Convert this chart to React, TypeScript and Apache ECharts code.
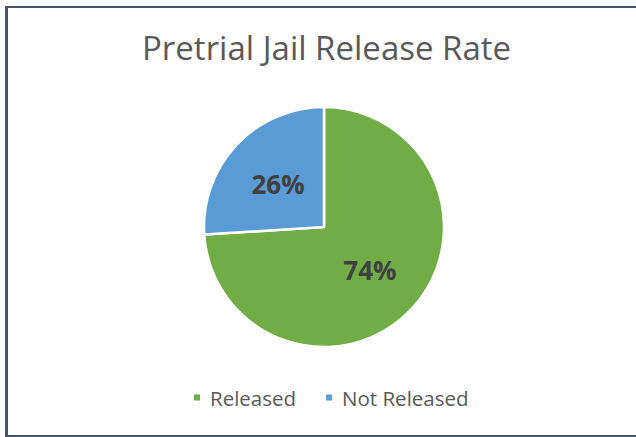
import React, { useEffect, useRef } from "react";
import * as echarts from "echarts";

const categories = ["Released", "Not Released"];
const values = [74, 26];
const colors = ["#70AD47", "#5B9BD5"];

export default function App() {
  const ref = useRef<HTMLDivElement>(null);
  useEffect(() => {
    const chart = echarts.init(ref.current!, null, { renderer: "svg" });
    chart.setOption({
      animation: false,
      backgroundColor: "#ffffff",
      title: {
        text: "Pretrial Jail Release Rate",
        left: 137,
        top: 26,
        textStyle: { fontFamily: "Open Sans", fontSize: 33, fontWeight: "normal", color: "#595959" },
      },
      legend: {
        bottom: 24,
        left: 187,
        icon: "rect",
        itemWidth: 8,
        itemHeight: 8,
        itemGap: 28,
        textStyle: { fontFamily: "Open Sans", fontSize: 20.5, color: "#595959", padding: [0, 0, 0, 4] },
        data: categories,
      },
      series: [
        {
          type: "pie",
          center: [324, 227],
          radius: [0, 120],
          startAngle: 90,
          clockwise: true,
          itemStyle: { borderColor: "#ffffff", borderWidth: 2.5 },
          label: {
            show: true,
            position: "inner",
            formatter: (p: any) => p.value + "%",
            fontFamily: "Open Sans",
            fontSize: 26,
            fontWeight: "bold",
            color: "#404040",
          },
          labelLine: { show: false },
          data: categories.map((c, i) => ({ name: c, value: values[i], itemStyle: { color: colors[i] } })),
        },
      ],
    });
    return () => chart.dispose();
  }, []);
  return (
    <div style={{ position: "fixed", left: 0, top: 0, width: 636, height: 437, background: "#fff" }}>
      <div ref={ref} style={{ position: "absolute", left: 0, top: 0, width: 636, height: 437 }} />
      <div
        style={{
          position: "absolute",
          left: 5,
          top: 6,
          width: 640,
          height: 427,
          borderLeft: "3px solid #44546A",
          borderTop: "2px solid #44546A",
          borderBottom: "2px solid #44546A",
          pointerEvents: "none",
        }}
      />
    </div>
  );
}
